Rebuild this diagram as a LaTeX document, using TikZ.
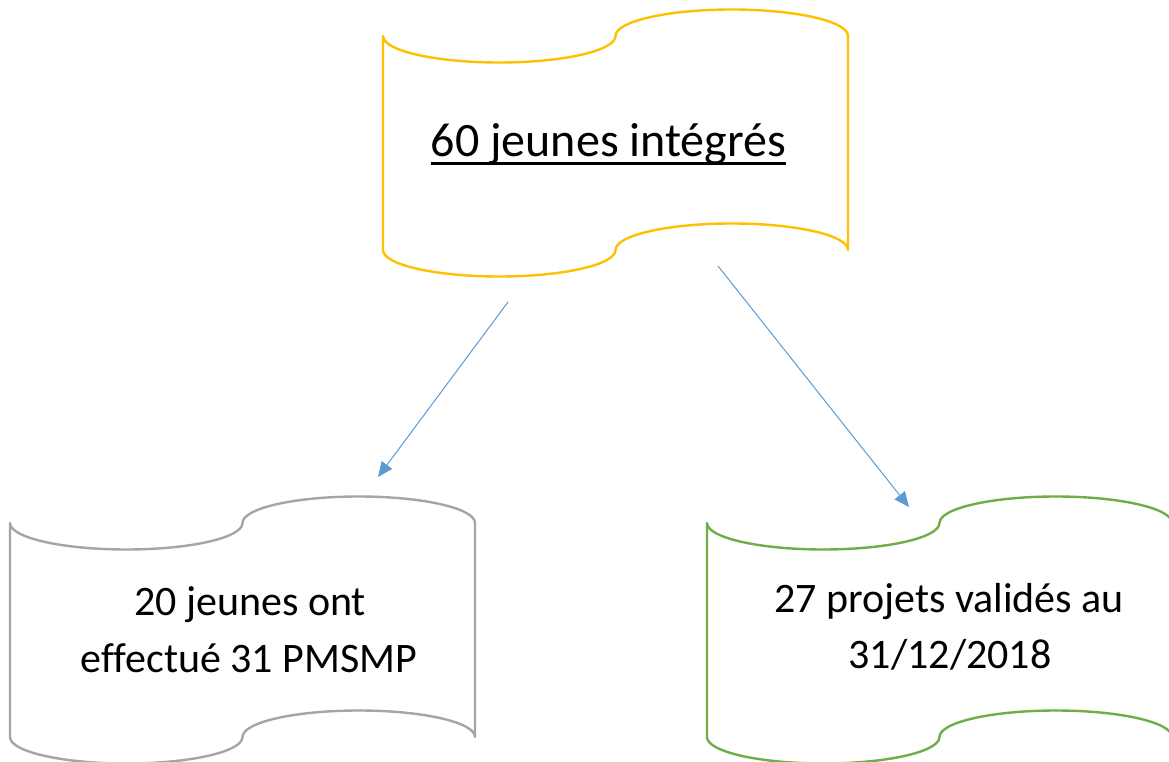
\documentclass[tikz,border=0pt]{standalone}
\usepackage{fontspec}
\setmainfont{Carlito}[Ligatures={TeX,NoCommon}]
\usetikzlibrary{arrows.meta}
\definecolor{tapegold}{HTML}{FFC000}
\definecolor{tapegray}{HTML}{A5A5A5}
\definecolor{tapegreen}{HTML}{70AD47}
\definecolor{arrowblue}{HTML}{5B9BD5}
\tikzset{
  tapeline/.style={line width=1.8pt, line join=round},
  boxtext/.style={inner sep=0pt, anchor=base, text=black, font=\fontsize{31.5}{38}\selectfont},
  titletext/.style={inner sep=0pt, anchor=base, text=black, font=\fontsize{36}{43}\selectfont},
  conn/.style={draw=arrowblue, line width=0.75pt, -{Triangle[length=11.25pt,width=9.75pt]}}
}
% #1 style, #2 left x, #3 right x, #4 top wave centre y, #5 bottom wave centre y (pixel units, y downwards)
\newcommand{\punchedtape}[5]{%
  \pgfmathsetmacro\ptRx{(#3-#2)/4}%
  \pgfmathsetmacro\ptK{0.5523*\ptRx}%
  \pgfmathsetmacro\ptKy{0.5523*26.5}%
  \pgfmathsetmacro\ptA{#2+\ptRx}%
  \pgfmathsetmacro\ptM{#2+2*\ptRx}%
  \pgfmathsetmacro\ptB{#2+3*\ptRx}%
  \draw[tapeline,#1] (#2,#4)
    .. controls (#2,{#4+\ptKy}) and ({\ptA-\ptK},{#4+26.5}) .. (\ptA,{#4+26.5})
    .. controls ({\ptA+\ptK},{#4+26.5}) and (\ptM,{#4+\ptKy}) .. (\ptM,#4)
    .. controls (\ptM,{#4-\ptKy}) and ({\ptB-\ptK},{#4-26.5}) .. (\ptB,{#4-26.5})
    .. controls ({\ptB+\ptK},{#4-26.5}) and (#3,{#4-\ptKy}) .. (#3,#4)
    -- (#3,#5)
    .. controls (#3,{#5-\ptKy}) and ({\ptB+\ptK},{#5-26.5}) .. (\ptB,{#5-26.5})
    .. controls ({\ptB-\ptK},{#5-26.5}) and (\ptM,{#5-\ptKy}) .. (\ptM,#5)
    .. controls (\ptM,{#5+\ptKy}) and ({\ptA+\ptK},{#5+26.5}) .. (\ptA,{#5+26.5})
    .. controls ({\ptA-\ptK},{#5+26.5}) and (#2,{#5+\ptKy}) .. (#2,#5)
    -- cycle;%
}
\begin{document}
\begin{tikzpicture}[x=0.75pt,y=-0.75pt]
  \useasboundingbox (0,0) rectangle (1169,762);
  \fill[white] (0,0) rectangle (1169,762);

  % shapes
  \punchedtape{draw=tapegold}{383}{848}{36}{250}
  \punchedtape{draw=tapegray}{10}{475}{523}{737}
  \punchedtape{draw=tapegreen}{707}{1172}{523}{737}

  % texts
  \node[titletext] (top) at (608.5,157) {60 jeunes intégrés};
  \draw[line width=2.6pt] ([yshift=-4.9pt]top.base west) -- ([yshift=-4.9pt]top.base east);

  \node[boxtext] (lefta) at (250,615) {20 jeunes ont};
  \node[boxtext] (leftb) at (249,672) {effectué 31 PMSMP};

  \node[boxtext] (righta) at (949,612) {27 projets validés au};
  \node[boxtext] (rightb) at (950,668) {31/12/2018};

  % connectors
  \coordinate (la) at (508,302);
  \coordinate (lb) at (378,477);
  \coordinate (ra) at (718,266);
  \coordinate (rb) at (909,507);
  \draw[conn] (la) -- (lb);
  \draw[conn] (ra) -- (rb);
\end{tikzpicture}
\end{document}
